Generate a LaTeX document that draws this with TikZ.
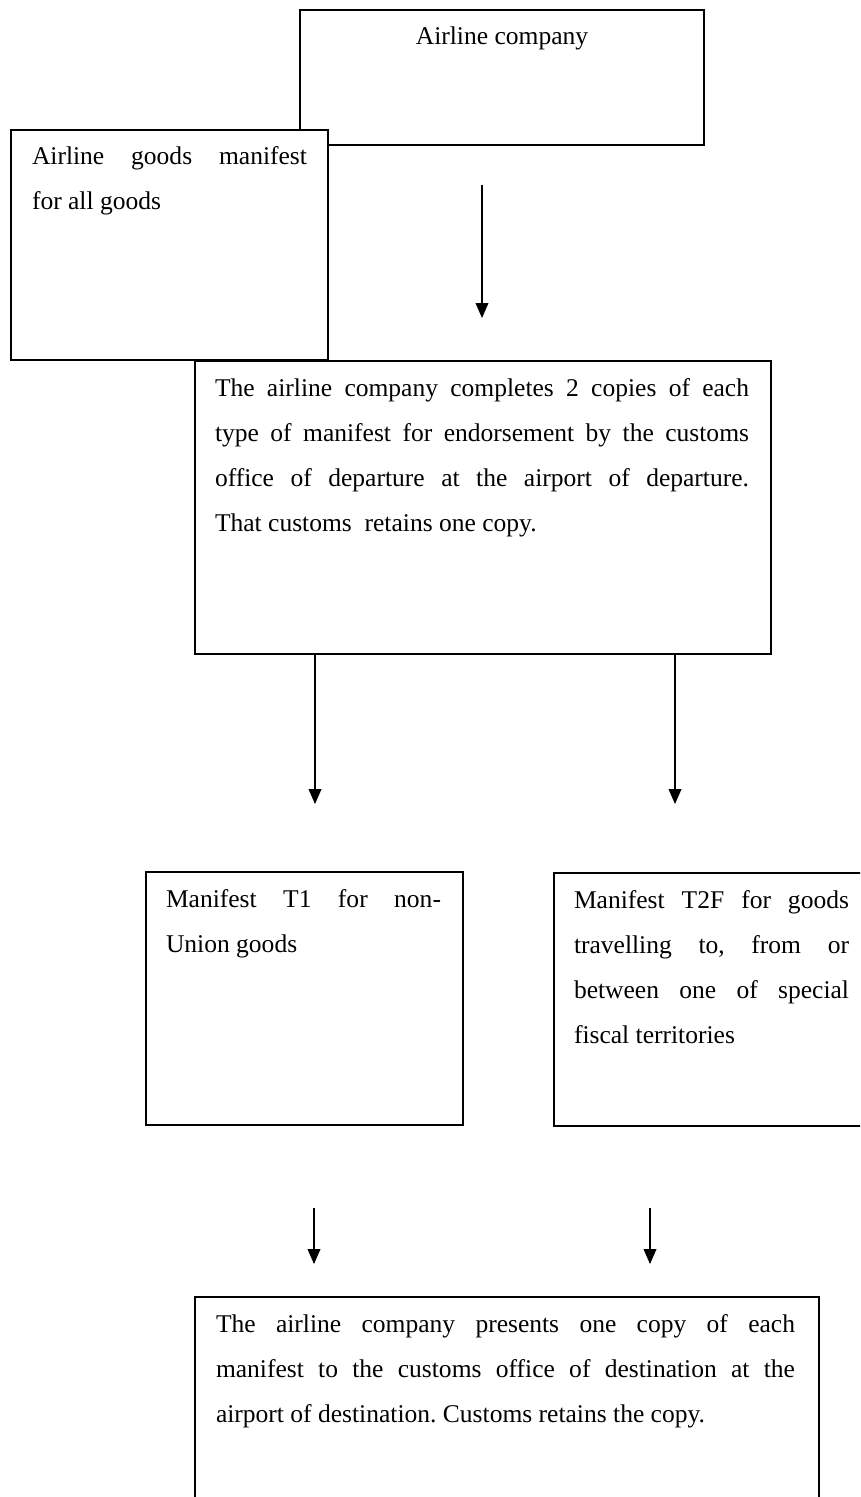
\documentclass[tikz,border=0pt]{standalone}
\usepackage{fontspec}
\setmainfont{Liberation Serif}
\usetikzlibrary{arrows.meta}
\frenchspacing
\newcommand\boxfont{\fontsize{12pt}{21.15pt}\selectfont}
% a line spread out to the full text width, and a line at its natural width
\newcommand\jl[1]{\leavevmode\hbox to \linewidth{\spaceskip=0pt\relax\xspaceskip=0pt\relax #1}}
\newcommand\nl[1]{\leavevmode\hbox{\spaceskip=0pt\relax\xspaceskip=0pt\relax #1}}
\begin{document}
\begin{tikzpicture}[x=0.47pt, y=-0.47pt,
  box/.style={draw, line width=0.75pt, inner sep=0pt, outer sep=0pt,
    anchor=north west, fill=white},
  txt/.style={inner sep=0pt, outer sep=0pt, anchor=base west, align=left, font=\boxfont},
  flow/.style={-{Triangle[length=7pt,width=6pt]}, line width=0.5pt},
]
\useasboundingbox (0,0) rectangle (860,1497);
\clip (0,0) rectangle (860,1497);

% airline company
\node[box, minimum width=189.88pt, minimum height=63.45pt] (airline) at (300,10) {};
\node[inner sep=0pt, anchor=base, font=\boxfont]
  (airlinetext) at (502,45) {\nl{Airline company}};

% goods manifest
\node[box, minimum width=148.99pt, minimum height=108.1pt] (manifest) at (11,130) {};
\node[txt, text width=129.25pt] (manifesttext) at ([shift={(21,35)}]manifest.north west)
  {\jl{Airline goods manifest}\\\nl{for all goods}};

% departure
\node[box, minimum width=270.72pt, minimum height=137.71pt] (depart) at (195,361) {};
\node[txt, text width=250.98pt] (departtext) at ([shift={(20,35)}]depart.north west)
  {\jl{The airline company completes 2 copies of each}\\
   \jl{type of manifest for endorsement by the customs}\\
   \jl{office of departure at the airport of departure.}\\
   \nl{That customs\ \ retains one copy.}};

% T1 and T2F manifests
\node[box, minimum width=148.99pt, minimum height=118.91pt] (tone) at (146,872) {};
\node[txt, text width=129.25pt] (tonetext) at ([shift={(20,35)}]tone.north west)
  {\jl{Manifest T1 for non-}\\\nl{Union goods}};

\node[box, minimum width=150.87pt, minimum height=118.91pt] (ttwo) at (554,873) {};
\node[txt, text width=129.25pt] (ttwotext) at ([shift={(20,35)}]ttwo.north west)
  {\jl{Manifest T2F for goods}\\
   \jl{travelling to, from or}\\
   \jl{between one of special}\\
   \nl{fiscal territories}};

% destination
\node[box, minimum width=293.28pt, minimum height=104.81pt] (dest) at (195,1297) {};
\node[txt, text width=272.13pt] (desttext) at ([shift={(21,35)}]dest.north west)
  {\jl{The airline company presents one copy of each}\\
   \jl{manifest to the customs office of destination at the}\\
   \nl{airport of destination. Customs retains the copy.}};

% connectors
\coordinate (a1s) at (482,185);
\coordinate (a1e) at (482,318);
\draw[flow] (a1s) -- (a1e);

\coordinate (b1e) at (315,804);
\coordinate (b2e) at (675,804);
\draw[flow] (b1e |- depart.south) -- (b1e);
\draw[flow] (b2e |- depart.south) -- (b2e);

\coordinate (c1s) at (314,1208);
\coordinate (c1e) at (314,1264);
\coordinate (c2s) at (650,1208);
\coordinate (c2e) at (650,1264);
\draw[flow] (c1s) -- (c1e);
\draw[flow] (c2s) -- (c2e);
\end{tikzpicture}
\end{document}
